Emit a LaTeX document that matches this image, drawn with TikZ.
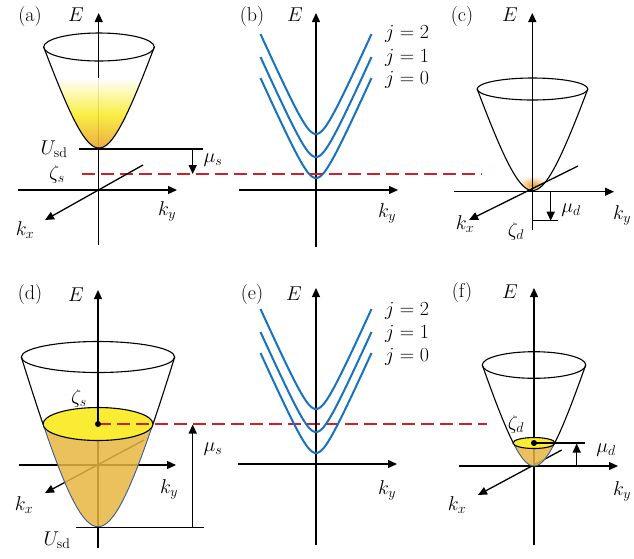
\RequirePackage{fix-cm}
\documentclass[tikz,border=0pt]{standalone}
\usetikzlibrary{arrows.meta}
\definecolor{curveblue}{RGB}{24,114,192}
\definecolor{dashred}{RGB}{205,32,40}
\definecolor{yel}{RGB}{250,236,50}
\definecolor{gold}{RGB}{230,182,64}
\definecolor{orng}{RGB}{232,160,48}
\definecolor{rimblue}{RGB}{60,90,150}
\tikzset{
 axis/.style={line width=1.3pt,-{Triangle[length=9pt,width=8pt]}},
 plain/.style={line width=1.3pt},
 rim/.style={line width=1.1pt},
 lbl/.style={inner sep=0pt,font=\fontsize{20}{24}\selectfont},
 band/.style={curveblue,line width=2pt},
 fermi/.style={color=dashred,line width=1.5pt,dash pattern=on 13pt off 6pt},
}
\begin{document}
\begin{tikzpicture}[x=1pt,y=-1pt,
 declare function={pf(\s)=(sqrt(1+4*\s*\s)-1)/1.2360680; bf(\t)=(sqrt(1+(\t/12)*(\t/12))-1)/3.7321;}]
\useasboundingbox (0,0) rectangle (634,558);

% ================= (a) =================
\coordinate (aE0) at (98.7,245); \coordinate (aE1) at (98.7,13);
\coordinate (aY0) at (18,190);   \coordinate (aY1) at (177,190);
\coordinate (aX0) at (143,165);  \coordinate (aX1) at (45,220);
\draw[axis] (aE0) -- (aE1);
\draw[axis] (aY0) -- (aY1);
\begin{scope}
 \clip plot[domain=-1:1,samples=61,smooth,variable=\s] ({99+55.3*\s},{148-101*pf(\s)}) -- cycle;
 \shade[top color=white,bottom color=orng,middle color=yel,opacity=0.9] (40,78) rectangle (160,150);
\end{scope}
\draw[rim] plot[domain=-1:1,samples=61,smooth,variable=\s] ({99+55.3*\s},{148-101*pf(\s)});
\draw[rim] (99,47) ellipse [x radius=55.3pt,y radius=14pt];
\coordinate (aU0) at (79,149); \coordinate (aU1) at (203,149);
\draw[plain] (aU0) -- (aU1);
\node[lbl] (alab) at (30,17) {(a)};
\node[lbl] (aE) at (76,15) {$E$};
\node[lbl] (aky) at (167,211) {$k_y$};
\node[lbl] (akx) at (25,230) {$k_x$};
\node[lbl] (aUsd) at (54,149) {$U_{\mathrm{sd}}$};
\node[lbl] (azeta) at (57,174) {$\zeta_s$};
\node[lbl] (amu) at (213,160) {$\mu_s$};

% ================= (b) =================
\coordinate (bE0) at (316,247); \coordinate (bE1) at (316,13);
\coordinate (bY0) at (239,190); \coordinate (bY1) at (398,190);
\draw[axis] (bE0) -- (bE1);
\draw[axis] (bY0) -- (bY1);
\foreach \v in {134,157,178}
 \draw[band] plot[domain=-55.5:55.5,samples=81,smooth,variable=\t] ({316+\t},{\v-100*bf(\t)});
\node[lbl] (blab) at (252,17) {(b)};
\node[lbl] (bE) at (295,15) {$E$};
\node[lbl] (bky) at (387,213) {$k_y$};
\node[lbl] (bj2) at (407,34) {$j=2$};
\node[lbl] (bj1) at (407,57.5) {$j=1$};
\node[lbl] (bj0) at (407,79.5) {$j=0$};

% ================= (c) =================
\begin{scope}
 \clip plot[domain=-1:1,samples=61,smooth,variable=\s] ({532.5+55.3*\s},{190.5-101.5*pf(\s)}) -- cycle;
 \shade[inner color=orng,outer color=white] (532.5,185) ellipse [x radius=15pt,y radius=9pt];
\end{scope}
\coordinate (cE0) at (532.3,230); \coordinate (cE1) at (532.3,13);
\coordinate (cY0) at (454,191.7); \coordinate (cY1) at (614,191.7);
\coordinate (cX0) at (578,166);   \coordinate (cX1) at (469,220);
\draw[axis] (cE0) -- (cE1);
\draw[axis] (cY0) -- (cY1);
\draw[axis] (cX0) -- (cX1);
\draw[rim] plot[domain=-1:1,samples=61,smooth,variable=\s] ({532.5+55.3*\s},{190.5-101.5*pf(\s)});
\draw[rim] (532.5,89) ellipse [x radius=55.3pt,y radius=11pt];
\coordinate (cM0) at (550.7,191.7); \coordinate (cM1) at (550.7,220.7);
\coordinate (cZ0) at (533,220.7); \coordinate (cZ1) at (558,220.7);
\draw[axis] (cM0) -- (cM1);
\draw[plain] (cZ0) -- (cZ1);
\node[lbl] (clab) at (462,17) {(c)};
\node[lbl] (cE) at (510,15) {$E$};
\node[lbl] (cky) at (622,215) {$k_y$};
\node[lbl] (ckx) at (465,224) {$k_x$};
\node[lbl] (cmu) at (571,210) {$\mu_d$};
\node[lbl] (czeta) at (516,231) {$\zeta_d$};

% ================= (d) =================
\coordinate (dE0) at (98,548); \coordinate (dE1) at (98,290);
\coordinate (dY0) at (19,465);  \coordinate (dY1) at (176,465);
\coordinate (dX0) at (144,440); \coordinate (dX1) at (45,493);
\draw[axis] (dE0) -- (dE1);
\draw[axis] (dY0) -- (dY1);
\draw[axis] (dX0) -- (dX1);
\draw[rim] plot[domain=-1:-0.7167,samples=15,smooth,variable=\s] ({98+76.7*\s},{526.7-169.7*pf(\s)});
\draw[rim] plot[domain=0.7167:1,samples=15,smooth,variable=\s] ({98+76.7*\s},{526.7-169.7*pf(\s)});
\draw[rim] (98,357) ellipse [x radius=76.7pt,y radius=15.5pt];
\fill[gold,opacity=0.85] plot[domain=-0.7167:0.7167,samples=61,smooth,variable=\s] ({98+76.7*\s},{526.7-169.7*pf(\s)}) -- cycle;
\draw[rimblue,line width=0.9pt] plot[domain=-0.7167:0.7167,samples=61,smooth,variable=\s] ({98+76.7*\s},{526.7-169.7*pf(\s)});
\draw[rim,fill=yel] (98,424) ellipse [x radius=55pt,y radius=16.5pt];
\coordinate (dDot) at (98,424); \coordinate (dTop) at (98,407.5);
\draw[plain] (dDot) -- (dTop);
\coordinate (dF1) at (487,424);
\draw[fermi] (dDot) -- (dF1);
\fill (dDot) circle [radius=3pt];
\coordinate (dU0) at (76,527.3); \coordinate (dU1) at (204,527.3);
\draw[plain] (dU0) -- (dU1);
\coordinate (dM0) at (192.7,527.3); \coordinate (dM1) at (192.7,424.5);
\draw[axis] (dM0) -- (dM1);
\node[lbl] (dlab) at (30,295) {(d)};
\node[lbl] (dE) at (76,295) {$E$};
\node[lbl] (dzeta) at (79,398) {$\zeta_s$};
\node[lbl] (dmu) at (213,449) {$\mu_s$};
\node[lbl] (dky) at (169,489) {$k_y$};
\node[lbl] (dkx) at (24,505) {$k_x$};
\node[lbl] (dUsd) at (57,540) {$U_{\mathrm{sd}}$};

% ================= (e) =================
\coordinate (eE0) at (316,545); \coordinate (eE1) at (316,288);
\coordinate (eY0) at (238,464); \coordinate (eY1) at (397,464);
\draw[axis] (eE0) -- (eE1);
\draw[axis] (eY0) -- (eY1);
\foreach \v in {409,432,453}
 \draw[band] plot[domain=-55.5:55.5,samples=81,smooth,variable=\t] ({316+\t},{\v-100*bf(\t)});
\node[lbl] (elab) at (252,295) {(e)};
\node[lbl] (eE) at (294,294) {$E$};
\node[lbl] (eky) at (387,490) {$k_y$};
\node[lbl] (ej2) at (407,311) {$j=2$};
\node[lbl] (ej1) at (407,334) {$j=1$};
\node[lbl] (ej0) at (407,357) {$j=0$};

% ================= (f) =================
\coordinate (fE0) at (534,545); \coordinate (fE1) at (534,288);
\coordinate (fY0) at (459,466); \coordinate (fY1) at (618,466);
\coordinate (fX0) at (561.7,450); \coordinate (fX1) at (478,495);
\draw[axis] (fE0) -- (fE1);
\draw[axis] (fY0) -- (fY1);
\draw[axis] (fX0) -- (fX1);
\draw[rim] plot[domain=-1:-0.4007,samples=25,smooth,variable=\s] ({534+51.7*\s},{466-101*pf(\s)});
\draw[rim] plot[domain=0.4007:1,samples=25,smooth,variable=\s] ({534+51.7*\s},{466-101*pf(\s)});
\draw[rim] (534,365) ellipse [x radius=51.7pt,y radius=13.3pt];
\fill[gold,opacity=0.85] plot[domain=-0.4007:0.4007,samples=41,smooth,variable=\s] ({534+51.7*\s},{466-101*pf(\s)}) -- cycle;
\draw[rimblue,line width=0.9pt] plot[domain=-0.4007:0.4007,samples=41,smooth,variable=\s] ({534+51.7*\s},{466-101*pf(\s)});
\draw[rim,fill=yel] (534,443) ellipse [x radius=21pt,y radius=5.5pt];
\coordinate (fDot) at (534,443); \coordinate (fL1) at (585,443);
\draw[plain] (fDot) -- (fL1);
\fill (fDot) circle [radius=3pt];
\coordinate (fM0) at (576.7,466); \coordinate (fM1) at (576.7,443.5);
\draw[axis] (fM0) -- (fM1);
\node[lbl] (flab) at (462,293) {(f)};
\node[lbl] (fE) at (510,292) {$E$};
\node[lbl] (fzeta) at (516,424) {$\zeta_d$};
\node[lbl] (fmu) at (606,450) {$\mu_d$};
\node[lbl] (fky) at (622,491) {$k_y$};
\node[lbl] (fkx) at (457,505) {$k_x$};

% top-row Fermi level, mu_s arrow and k_x axis of (a)
\coordinate (aF0) at (82,174); \coordinate (aF1) at (482,174);
\draw[fermi] (aF0) -- (aF1);
\coordinate (aM0) at (192.7,149); \coordinate (aM1) at (192.7,174);
\draw[axis] (aM0) -- (aM1);
\draw[axis] (aX0) -- (aX1);
\end{tikzpicture}
\end{document}
